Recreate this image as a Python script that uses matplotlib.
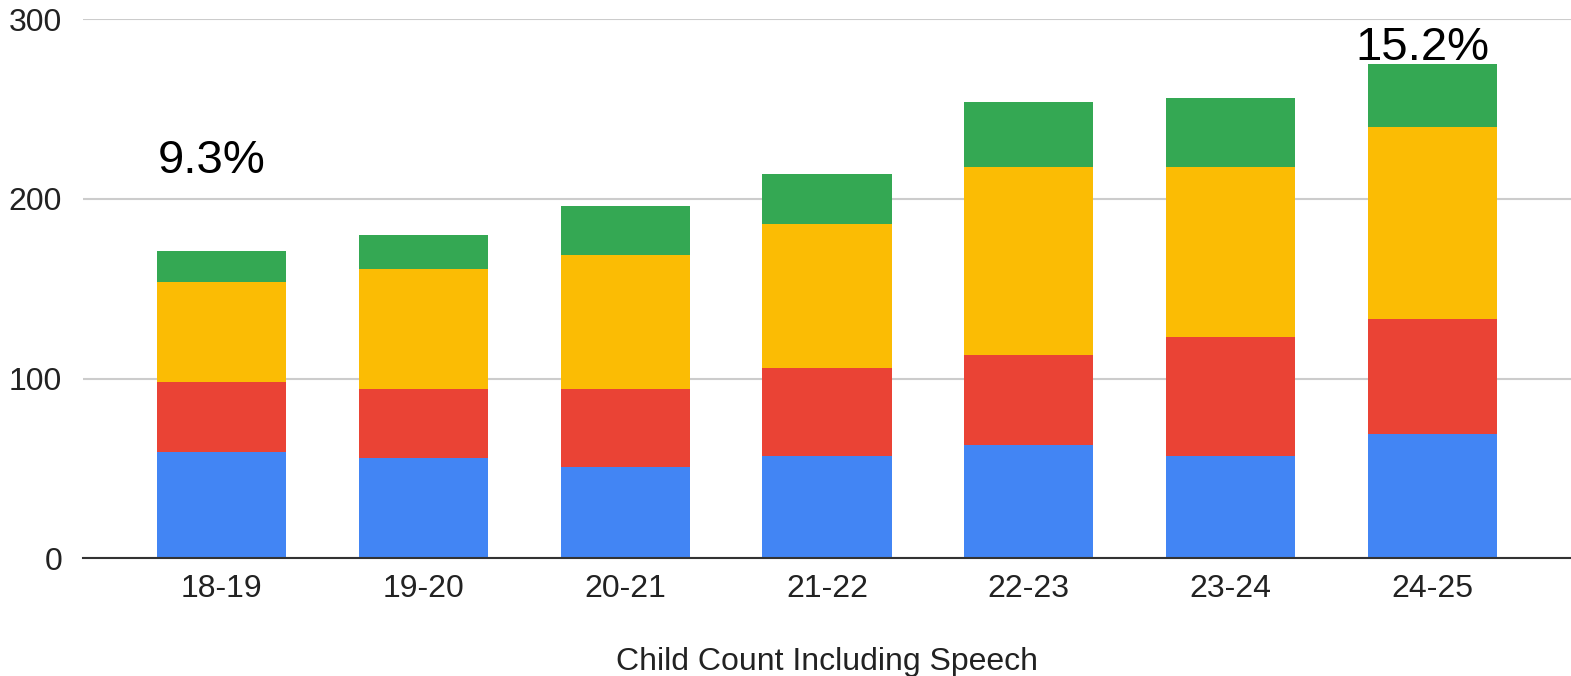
import matplotlib
matplotlib.use("Agg")
import matplotlib.pyplot as plt
import numpy as np

plt.rcParams['font.family'] = ['Liberation Sans', 'DejaVu Sans']

# School years on the x axis
years = ["18-19", "19-20", "20-21", "21-22", "22-23", "23-24", "24-25"]

# Stacked segment counts, bottom to top
blue_vals = [59, 56, 51, 57, 63, 57, 69]
red_vals = [39, 38, 43, 49, 50, 66, 64]
yellow_vals = [56, 67, 75, 80, 105, 95, 107]
green_vals = [17, 19, 27, 28, 36, 38, 35]

series_colors = ["#4285F4", "#EA4335", "#FBBC04", "#34A853"]

# Percentage callouts: (bar index, y position, text)
callout_idx = [0, 6]
callout_y = [221, 284]
callout_text = ["9.3%", "15.2%"]

yticks = [0, 100, 200, 300]

fig = plt.figure(figsize=(15.71, 6.76), dpi=100)
ax = fig.add_axes([0.0528, 0.1741, 0.9472, 0.7973])

x = np.arange(len(years))
width = 0.64
bottom = np.zeros(len(years))
for vals, col in zip([blue_vals, red_vals, yellow_vals, green_vals], series_colors):
    ax.bar(x, vals, width, bottom=bottom, color=col, edgecolor='none', zorder=3)
    bottom += np.array(vals)

for i, yv, t in zip(callout_idx, callout_y, callout_text):
    ax.text(x[i] - 0.05, yv, t, ha='center', va='center', fontsize=34, color='#000000', zorder=4)

ax.set_xlim(-0.686, len(years) - 1 + 0.686)
ax.set_ylim(0, 300)
ax.set_yticks(yticks)
ax.set_xticks(x)
ax.set_xticklabels(years)
ax.tick_params(axis='both', length=0, labelsize=23, colors='#222222')
ax.tick_params(axis='x', pad=11)
ax.tick_params(axis='y', pad=15)

ax.grid(axis='y', color='#cccccc', linewidth=1.5, zorder=0)
for side in ['top', 'right', 'left']:
    ax.spines[side].set_visible(False)
ax.spines['bottom'].set_color('#333333')
ax.spines['bottom'].set_linewidth(1.5)
ax.spines['bottom'].set_zorder(5)

ax.set_xlabel("Child Count Including Speech", fontsize=23, color='#222222', labelpad=31)

fig.savefig("out.png", dpi=100, facecolor='white')
